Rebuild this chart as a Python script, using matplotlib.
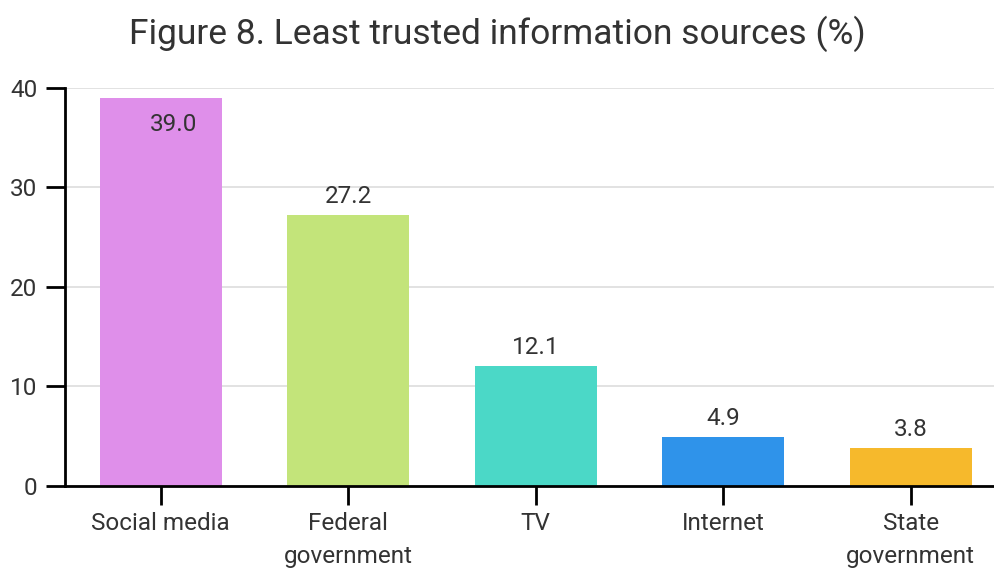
import matplotlib
matplotlib.use("Agg")
import matplotlib.pyplot as plt

categories = ["Social media", "Federal\ngovernment", "TV", "Internet", "State\ngovernment"]
values = [39.0, 27.2, 12.1, 4.9, 3.8]
colors = ["#df8fea", "#c3e47a", "#4bd8c7", "#2f93ea", "#f6b92c"]
yticks = [0, 10, 20, 30, 40]
title = "Figure 8. Least trusted information sources (%)"

plt.rcParams["font.family"] = ["Roboto", "DejaVu Sans"]
plt.rcParams["font.stretch"] = "condensed"
text_color = "#333333"

fig = plt.figure(figsize=(9.95, 5.71), dpi=100)
ax = fig.add_axes([0.0653, 0.1489, 0.9347, 0.6970])

x = list(range(len(categories)))
bars = ax.bar(x, values, width=0.65, color=colors, zorder=2)

ax.set_xlim(-0.51, 4.45)
ax.set_ylim(0, 40)
ax.set_yticks(yticks)
ax.set_xticks(x)
ax.set_xticklabels(categories, fontsize=17.5, color=text_color, linespacing=1.55)
ax.tick_params(axis="y", labelsize=17.5, labelcolor=text_color, length=14, width=2, color="black", pad=6)
ax.tick_params(axis="x", length=14, width=2, color="black", pad=5)

ax.grid(axis="y", color="#dddddd", linewidth=1.2, zorder=0)
ax.set_axisbelow(True)
for side in ("top", "right"):
    ax.spines[side].set_visible(False)
for side in ("left", "bottom"):
    ax.spines[side].set_linewidth(2)
    ax.spines[side].set_color("black")
    ax.spines[side].set_zorder(3)

for i, (rect, v) in enumerate(zip(bars, values)):
    cx = rect.get_x() + rect.get_width() / 2
    if v > 36:
        ax.annotate(f"{v:.1f}", (cx, v), xytext=(9, -11), textcoords="offset points",
                    ha="center", va="top", fontsize=17.5, color=text_color, zorder=4)
    else:
        ax.annotate(f"{v:.1f}", (cx, v), xytext=(0, 5), textcoords="offset points",
                    ha="center", va="bottom", fontsize=17.5, color=text_color, zorder=4)

fig.text(0.5, 0.940, title, ha="center", va="center", fontsize=25.5, color=text_color)

fig.savefig("out.png", dpi=100)
